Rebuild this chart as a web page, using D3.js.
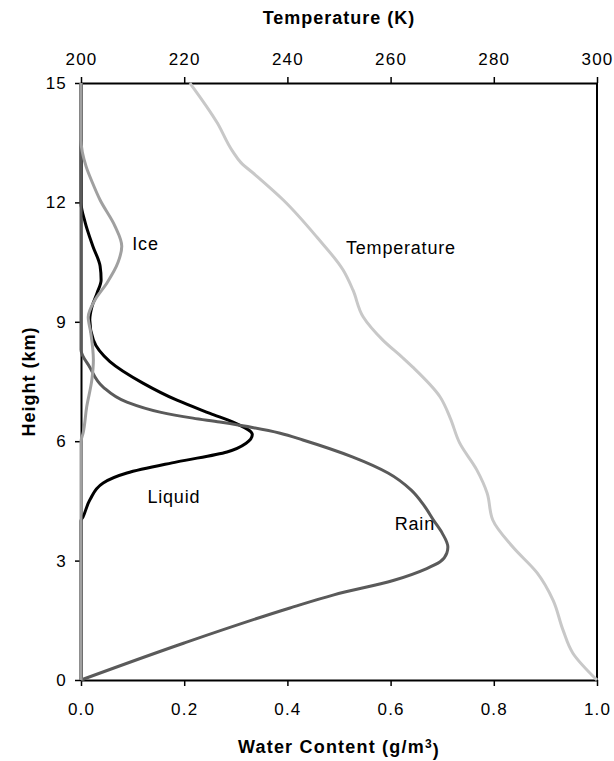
<!DOCTYPE html>
<html>
<head>
<meta charset="utf-8">
<script src="https://cdn.jsdelivr.net/npm/d3@7"></script>
<style>
  body { margin: 0; background: #fff; }
  svg text { font-family: "Liberation Sans", Arial, sans-serif; }
</style>
</head>
<body>
<div id="chart"></div>
<script>
// height (km) / water content (g/m3)
var rainHeight = [0, 0.93, 1.81, 2.14, 2.5, 2.8, 2.97, 3.19, 3.34, 3.69, 4.0, 4.4, 4.77, 5.2, 5.6, 6.03, 6.2, 6.48, 6.58, 6.73, 6.98, 7.36, 7.86, 8.3, 15];
var rainValue  = [0, 0.2, 0.405, 0.49, 0.605, 0.67, 0.696, 0.709, 0.711, 0.70, 0.684, 0.664, 0.64, 0.595, 0.527, 0.43, 0.386, 0.269, 0.217, 0.153, 0.089, 0.043, 0.017, 0, 0];

var liquidHeight = [0, 4.0, 4.1, 4.52, 4.95, 5.2, 5.48, 5.73, 5.95, 6.17, 6.45, 6.7, 7.03, 7.46, 8.0, 8.54, 9.05, 9.37, 9.72, 10.05, 10.4, 10.9, 11.5, 12.0, 15];
var liquidValue  = [0, 0, 0.004, 0.017, 0.043, 0.089, 0.186, 0.283, 0.32, 0.332, 0.30, 0.25, 0.186, 0.12, 0.056, 0.024, 0.017, 0.021, 0.031, 0.039, 0.037, 0.023, 0.008, 0, 0];

var iceHeight = [0, 6.0, 6.2, 6.86, 7.54, 8.04, 8.72, 9.12, 9.55, 9.97, 10.5, 10.9, 11.4, 12.06, 12.5, 12.9, 13.57, 15];
var iceValue  = [0, 0, 0.004, 0.011, 0.021, 0.024, 0.019, 0.014, 0.027, 0.05, 0.072, 0.079, 0.066, 0.037, 0.022, 0.01, 0, 0];

// temperature (K)
var tempHeight = [0, 0.68, 1.26, 2.0, 2.69, 3.34, 4.02, 4.7, 5.28, 5.95, 6.6, 7.11, 7.86, 8.09, 8.54, 9.12, 9.8, 10.3, 11.13, 12.06, 12.7, 13.0, 13.3, 14, 15];
var tempValue  = [300, 295.3, 293.4, 291.5, 288.4, 283.7, 279.8, 278.7, 276.7, 273.4, 271.5, 269.6, 264.3, 262.4, 258.5, 254.7, 252.7, 250.8, 245.7, 239.2, 233.7, 231.0, 229.3, 226.4, 221.1];

var heightTicks = [0, 3, 6, 9, 12, 15];
var waterTicks = [0, 0.2, 0.4, 0.6, 0.8, 1.0];
var tempTicks = [200, 220, 240, 260, 280, 300];

var width = 614;
var height = 761;
var margin = { top: 83, right: 17, bottom: 81, left: 81 };

var svg = d3.select("#chart")
            .append("svg")
            .attr("width", width)
            .attr("height", height);

var x = d3.scaleLinear().domain([0, 1]).range([margin.left, width - margin.right]);
var xT = d3.scaleLinear().domain([200, 300]).range([margin.left, width - margin.right]);
var y = d3.scaleLinear().domain([0, 15]).range([height - margin.bottom, margin.top]);

// axes
var bottomAxis = svg.append("g")
   .attr("transform", "translate(0," + (height - margin.bottom) + ")")
   .call(d3.axisBottom(x).tickValues(waterTicks).tickFormat(d3.format(".1f")).tickSizeInner(6).tickSizeOuter(0).tickPadding(17));

var topAxis = svg.append("g")
   .attr("transform", "translate(0," + margin.top + ")")
   .call(d3.axisTop(xT).tickValues(tempTicks).tickSizeInner(6).tickSizeOuter(0).tickPadding(12));

var leftAxis = svg.append("g")
   .attr("transform", "translate(" + margin.left + ",0)")
   .call(d3.axisLeft(y).tickValues(heightTicks).tickSizeInner(6).tickSizeOuter(0).tickPadding(8));

// right frame line
svg.append("line")
   .attr("x1", width - margin.right).attr("x2", width - margin.right)
   .attr("y1", margin.top).attr("y2", height - margin.bottom)
   .attr("stroke", "#000").attr("stroke-width", 2);

[bottomAxis, topAxis, leftAxis].forEach(function(g) {
   g.select(".domain").attr("stroke-width", 2);
   g.selectAll(".tick line").attr("stroke-width", 1.5);
   g.selectAll(".tick text")
    .style("font-size", "17px")
    .style("letter-spacing", "1.2px")
    .attr("fill", "#000");
});

// series: each profile is a function of height, so interpolate monotone in y
function profile(xs, vals, hs) {
   var idx = d3.range(hs.length).reverse(); // top to bottom => increasing pixel y
   return d3.line()
            .x(function(i) { return xs(vals[i]); })
            .y(function(i) { return y(hs[i]); })
            .curve(d3.curveMonotoneY)(idx);
}

svg.append("path")
   .attr("d", profile(x, liquidValue, liquidHeight))
   .attr("fill", "none").attr("stroke", "#000").attr("stroke-width", 3);

svg.append("path")
   .attr("d", profile(x, rainValue, rainHeight))
   .attr("fill", "none").attr("stroke", "#5a5a5a").attr("stroke-width", 3);

svg.append("path")
   .attr("d", profile(x, iceValue, iceHeight))
   .attr("fill", "none").attr("stroke", "#a0a0a0").attr("stroke-width", 3);

svg.append("path")
   .attr("d", profile(xT, tempValue, tempHeight))
   .attr("fill", "none").attr("stroke", "#c8c8c8").attr("stroke-width", 3);

// series labels
var labels = [
   { text: "Ice", h: 10.95, v: 0.125 },
   { text: "Liquid", h: 4.6, v: 0.18 },
   { text: "Rain", h: 3.92, v: 0.647 },
   { text: "Temperature", h: 10.85, v: 0.62 }
];
svg.selectAll(".series-label")
   .data(labels)
   .join("text")
   .attr("class", "series-label")
   .attr("x", function(d) { return x(d.v); })
   .attr("y", function(d) { return y(d.h); })
   .attr("dy", "0.35em")
   .attr("text-anchor", "middle")
   .style("font-size", "18px")
   .style("letter-spacing", "0.8px")
   .text(function(d) { return d.text; });

// axis titles
svg.append("text")
   .attr("x", (margin.left + width - margin.right) / 2)
   .attr("y", 24)
   .attr("text-anchor", "middle")
   .style("font-size", "18px").style("font-weight", "bold").style("letter-spacing", "1px")
   .text("Temperature (K)");

var xt = svg.append("text")
   .attr("x", (margin.left + width - margin.right) / 2)
   .attr("y", 753)
   .attr("text-anchor", "middle")
   .style("font-size", "18px").style("font-weight", "bold").style("letter-spacing", "1.2px");
xt.append("tspan").text("Water Content (g/m");
xt.append("tspan").attr("dy", "-0.45em").style("font-size", "12px").text("3");
xt.append("tspan").attr("dy", "0.45em").text(")");

svg.append("text")
   .attr("transform", "rotate(-90)")
   .attr("x", -(margin.top + height - margin.bottom) / 2)
   .attr("y", 35)
   .attr("text-anchor", "middle")
   .style("font-size", "18px").style("font-weight", "bold").style("letter-spacing", "1px")
   .text("Height (km)");
</script>
</body>
</html>
